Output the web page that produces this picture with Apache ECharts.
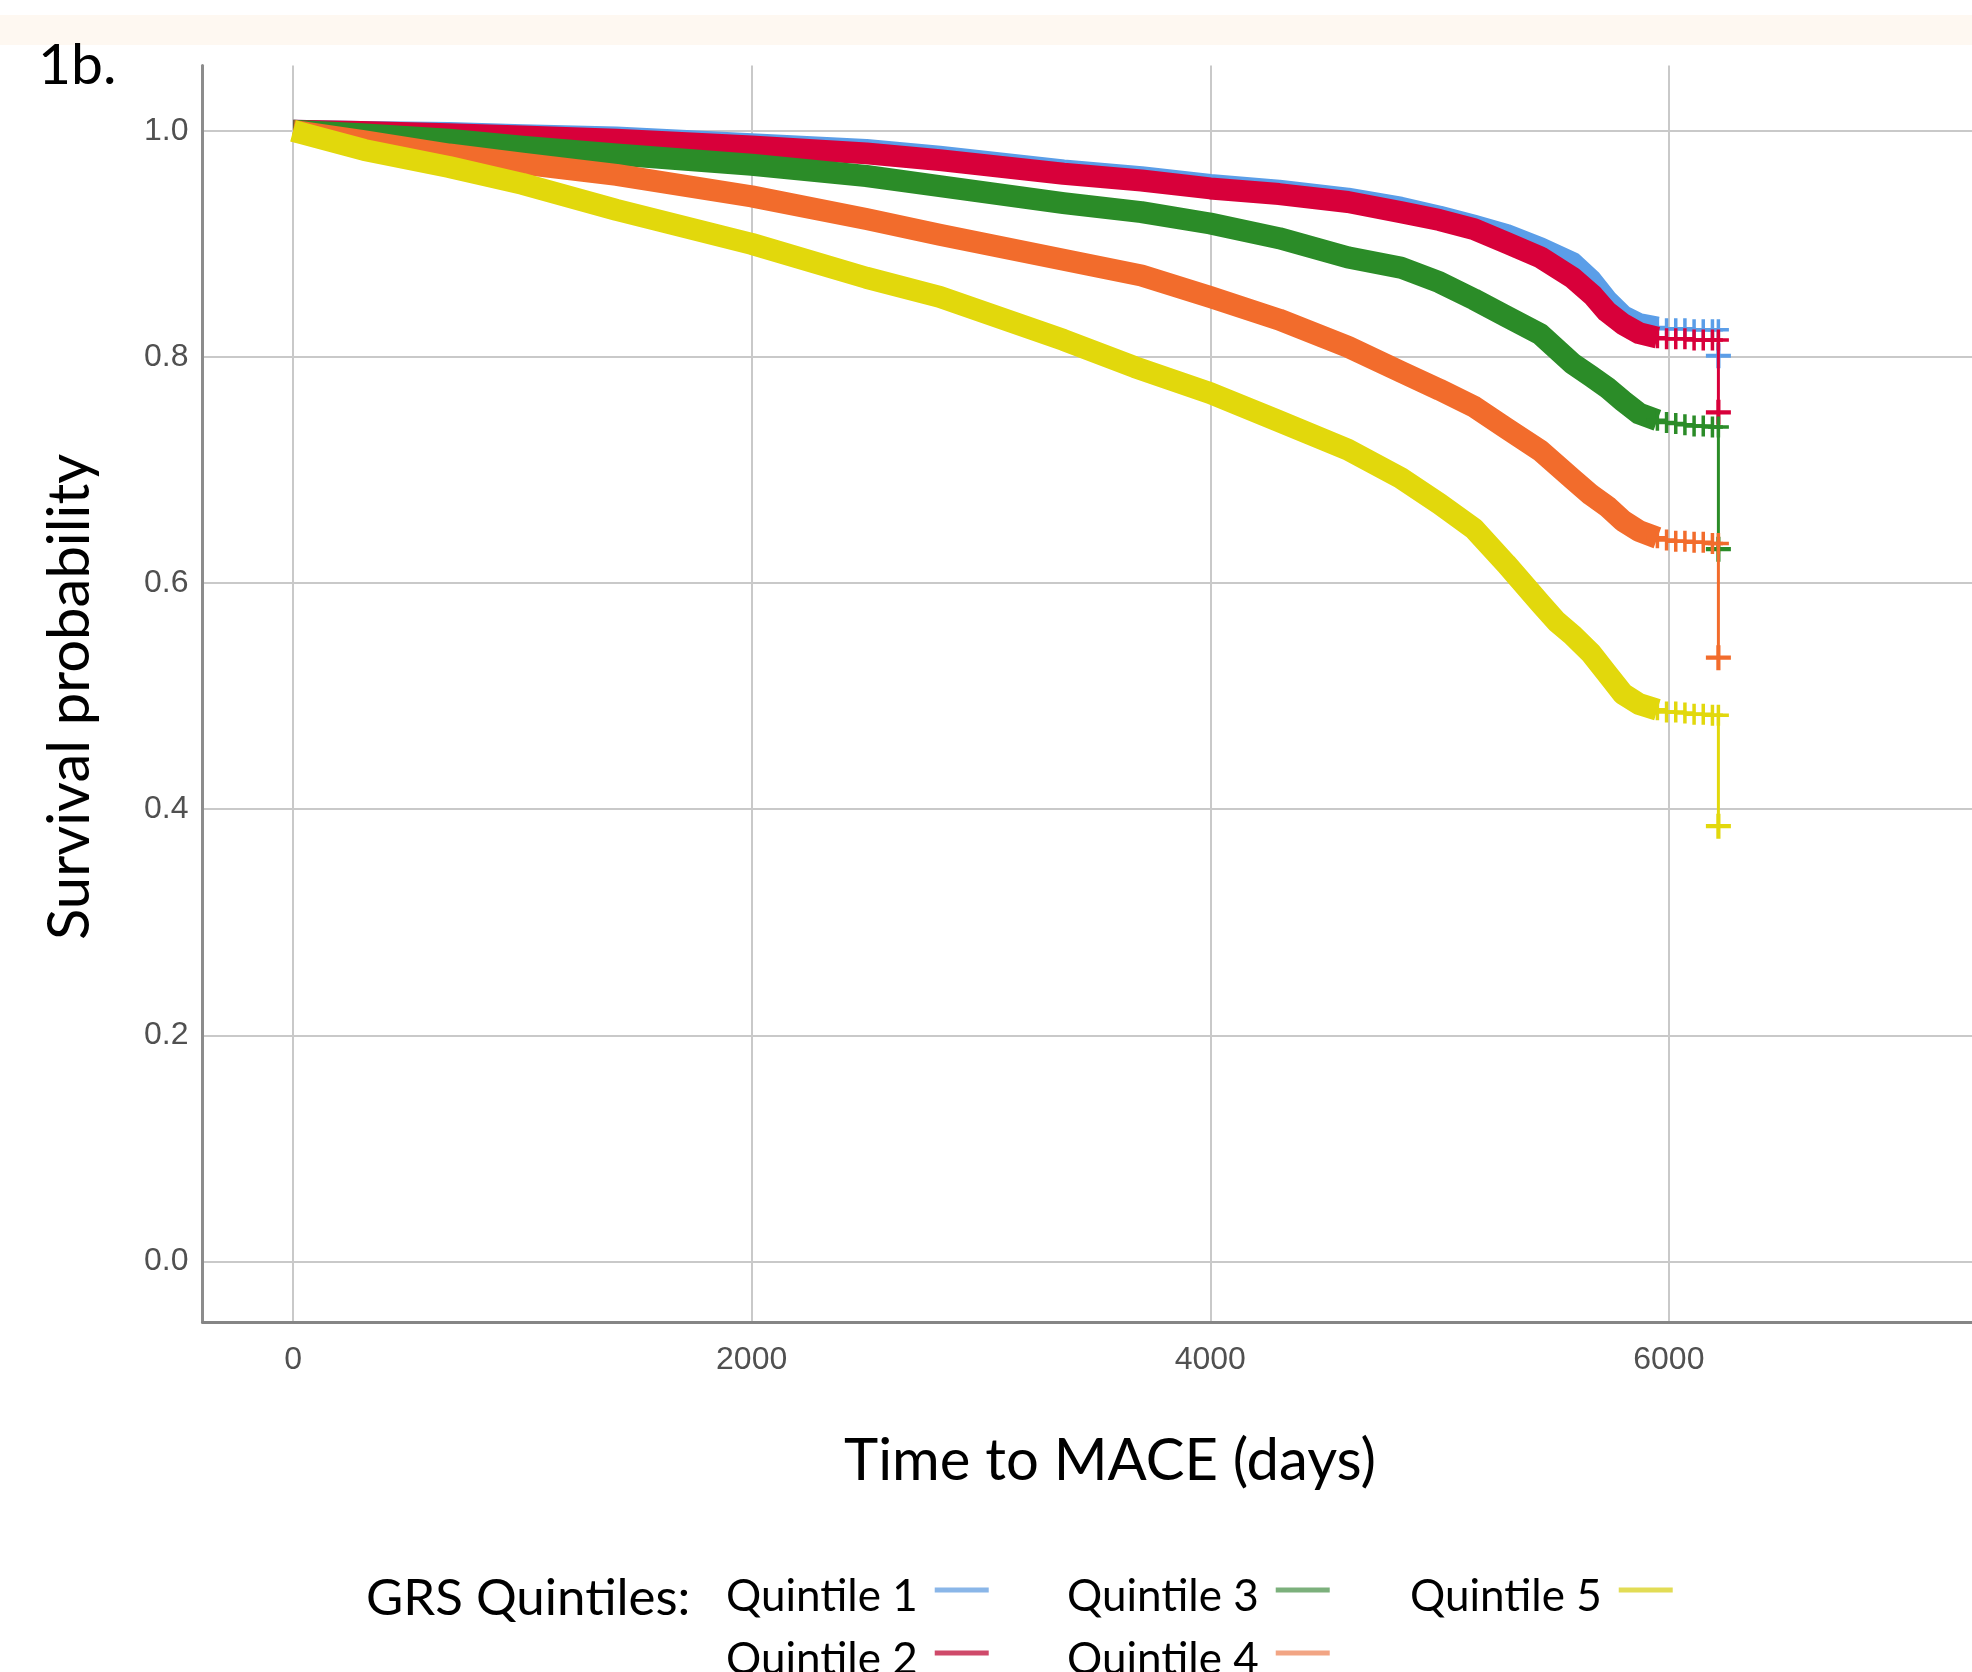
<!DOCTYPE html>
<html><head><meta charset="utf-8">
<script src="https://cdn.jsdelivr.net/npm/echarts@6/dist/echarts.min.js"></script>
<style>html,body{margin:0;padding:0;background:#fff}#c{width:1972px;height:1672px}</style>
</head><body><div id="c"></div>
<script>
// ---- data ----
const seriesNames = ['Quintile 1', 'Quintile 2', 'Quintile 3', 'Quintile 4', 'Quintile 5'];
const xTicks = [0, 2000, 4000, 6000];
const yTicks = [0, 0.2, 0.4, 0.6, 0.8, 1.0];

const q1Main = [[0,1.0],[300,0.999],[680,0.998],[1000,0.996],[1410,0.994],[2000,0.988],[2500,0.983],[2820,0.977],[3360,0.965],[3700,0.959],[4000,0.952],[4300,0.947],[4600,0.940],[4830,0.932],[5000,0.924],[5150,0.916],[5290,0.908],[5440,0.896],[5580,0.883],[5660,0.868],[5730,0.850],[5800,0.836],[5870,0.829],[5950,0.826]];
const q1Tail = [[5950,0.826],[5990,0.825],[6030,0.825],[6070,0.825],[6110,0.824],[6150,0.824],[6190,0.824],[6216,0.824],[6216,0.801]];

const q2Main = [[0,1.0],[300,0.999],[680,0.997],[1000,0.995],[1410,0.992],[2000,0.986],[2500,0.980],[2820,0.974],[3360,0.962],[3700,0.956],[4000,0.949],[4300,0.944],[4600,0.937],[4830,0.928],[5000,0.921],[5150,0.913],[5290,0.901],[5440,0.888],[5580,0.870],[5670,0.854],[5730,0.840],[5800,0.829],[5870,0.821],[5950,0.817]];
const q2Tail = [[5950,0.817],[5990,0.816],[6030,0.816],[6070,0.816],[6110,0.815],[6150,0.815],[6190,0.815],[6216,0.815],[6216,0.751]];

const q3Main = [[0,1.0],[300,0.997],[680,0.992],[1000,0.986],[1410,0.979],[2000,0.970],[2500,0.960],[2820,0.951],[3360,0.936],[3700,0.928],[4000,0.918],[4300,0.905],[4600,0.888],[4830,0.879],[5000,0.866],[5150,0.851],[5290,0.836],[5440,0.820],[5580,0.794],[5660,0.783],[5730,0.773],[5800,0.761],[5870,0.750],[5950,0.744]];
const q3Tail = [[5950,0.744],[5990,0.742],[6030,0.741],[6070,0.740],[6110,0.739],[6150,0.739],[6190,0.738],[6216,0.738],[6216,0.630]];

const q4Main = [[0,1.0],[300,0.991],[680,0.979],[1000,0.971],[1410,0.961],[2000,0.942],[2500,0.922],[2820,0.908],[3360,0.886],[3700,0.872],[4000,0.853],[4300,0.833],[4600,0.809],[4830,0.787],[5000,0.771],[5150,0.756],[5290,0.737],[5440,0.717],[5580,0.692],[5660,0.678],[5730,0.668],[5800,0.655],[5870,0.646],[5950,0.640]];
const q4Tail = [[5950,0.640],[5990,0.638],[6030,0.637],[6070,0.637],[6110,0.636],[6150,0.636],[6190,0.635],[6216,0.635],[6216,0.534]];

const q5Main = [[0,1.0],[310,0.983],[680,0.968],[1000,0.953],[1410,0.930],[2000,0.900],[2500,0.870],[2820,0.853],[3360,0.815],[3670,0.791],[4000,0.768],[4290,0.744],[4600,0.718],[4830,0.693],[5000,0.670],[5150,0.648],[5290,0.617],[5440,0.582],[5510,0.566],[5580,0.554],[5660,0.538],[5730,0.520],[5800,0.502],[5870,0.493],[5950,0.488]];
const q5Tail = [[5950,0.488],[5990,0.486],[6030,0.486],[6070,0.485],[6110,0.484],[6150,0.484],[6190,0.483],[6216,0.483],[6216,0.385]];

const mains = [q1Main, q2Main, q3Main, q4Main, q5Main];
const tails = [q1Tail, q2Tail, q3Tail, q4Tail, q5Tail];

// ---- styles ----
const lineColors = ['#5b9ee8', '#d8003a', '#2b8c28', '#f26c2c', '#e2d80c'];
const legendColors = ['#8ab6e8', '#cf4a6a', '#7cb07c', '#f2a584', '#e2dc55'];
const PLUS = 'path://M10,0h4v10h10v4h-10v10h-4v-10h-10v-4h10z';
const FONT = 'Lato';

const series = [];
mains.forEach((d, i) => {
  series.push({
    type: 'line', name: seriesNames[i], data: d, symbol: 'none', showSymbol: false,
    smooth: false,
    lineStyle: { width: 22, color: lineColors[i], cap: 'butt', join: 'round' },
    itemStyle: { color: lineColors[i] }, z: 2 + i, silent: true
  });
});
tails.forEach((d, i) => {
  series.push({
    type: 'line', name: seriesNames[i], data: d, symbol: PLUS,
    symbolSize: (v, p) => (p.dataIndex === d.length - 1 ? 25 : 21),
    lineStyle: { width: 3, color: lineColors[i] },
    itemStyle: { color: lineColors[i] }, z: 2 + i, silent: true
  });
});

const legendPos = [[726, 1561], [726, 1624], [1067, 1561], [1067, 1624], [1410, 1561]];
const legends = seriesNames.map((n, i) => ({
  left: legendPos[i][0], top: legendPos[i][1], orient: 'horizontal', align: 'right', padding: 0,
  itemGap: 5, itemWidth: 54, itemHeight: 5, icon: 'rect', selectedMode: false,
  data: [{ name: n, itemStyle: { color: legendColors[i] } }],
  formatter: s => '{t|' + s + '}',
  textStyle: { fontFamily: FONT, fontSize: 44, color: '#000',
    rich: { t: { fontFamily: FONT, fontSize: 44, color: '#000', lineHeight: 44, padding: [14, 12, 0, 0] } } }
}));

const option = {
  animation: false,
  backgroundColor: '#ffffff',
  grid: { left: 202.5, top: 65.4, right: 0, bottom: 350.1, containLabel: false, outerBoundsMode: 'none' },
  xAxis: {
    type: 'value', min: -395, max: 7322,
    axisLine: { show: true, onZero: false, lineStyle: { color: '#858585', width: 3 } },
    axisTick: { show: false, customValues: xTicks },
    axisLabel: { customValues: xTicks, margin: 22, fontFamily: 'Liberation Sans', fontSize: 32, color: '#505050',
      formatter: v => String(v) },
    splitLine: { show: true, lineStyle: { color: '#c9c9c9', width: 2 } }
  },
  yAxis: {
    type: 'value', min: -0.0534, max: 1.0578,
    axisLine: { show: true, onZero: false, lineStyle: { color: '#8c8c8c', width: 3 } },
    axisTick: { show: false, customValues: yTicks },
    axisLabel: { customValues: yTicks, margin: 14, fontFamily: 'Liberation Sans', fontSize: 32, color: '#505050',
      formatter: v => v.toFixed(1) },
    splitLine: { show: true, lineStyle: { color: '#c9c9c9', width: 2 } }
  },
  legend: legends,
  graphic: [
    { type: 'rect', shape: { x: 0, y: 15, width: 1972, height: 30 }, style: { fill: '#fef8f1' }, silent: true, z: -10 },
    { type: 'text', x: 38, y: 66, style: { text: '1b.', fontFamily: FONT, fontSize: 57, fill: '#000', align: 'left', verticalAlign: 'middle' } },
    { type: 'text', x: 1110, y: 1461, style: { text: 'Time to MACE (days)', fontFamily: FONT, fontSize: 58, fill: '#000', align: 'center', verticalAlign: 'middle' } },
    { type: 'text', x: 70, y: 697, rotation: Math.PI / 2, style: { text: 'Survival probability', fontFamily: FONT, fontSize: 58, fill: '#000', align: 'center', verticalAlign: 'middle' } },
    { type: 'text', x: 366, y: 1599, style: { text: 'GRS Quintiles:', fontFamily: FONT, fontSize: 51, fill: '#000', align: 'left', verticalAlign: 'middle' } }
  ],
  series: series
};

const chart = echarts.init(document.getElementById('c'), null, { renderer: 'canvas' });
chart.setOption(option);
</script>
</body></html>
